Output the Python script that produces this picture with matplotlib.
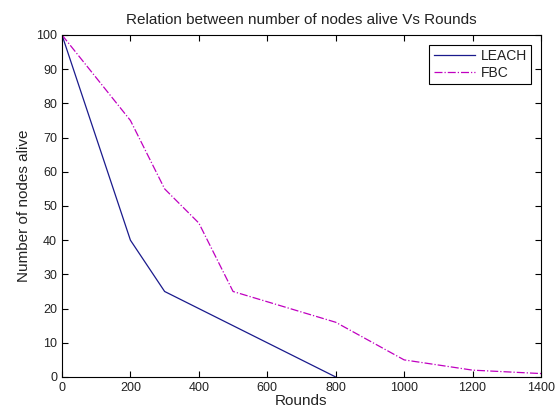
import matplotlib.pyplot as plt

plt.rcParams['font.family'] = ['Liberation Sans', 'DejaVu Sans']

# data
rounds_leach = [0, 200, 300, 800]
alive_leach = [100, 40, 25, 0]

rounds_fbc = [0, 200, 300, 400, 500, 600, 800, 1000, 1200, 1400]
alive_fbc = [100, 75, 55, 45, 25, 22, 16, 5, 2, 1]

fig = plt.figure(figsize=(5.56, 4.15), dpi=100)
ax = fig.add_axes([0.1115, 0.0916, 0.8615, 0.8241])

ax.plot(rounds_leach, alive_leach, color='#1a1a8c', linewidth=0.9, linestyle='-', label='LEACH')
ax.plot(rounds_fbc, alive_fbc, color='#c000c0', linewidth=0.9, linestyle='-.', label='FBC')

ax.set_xlim(0, 1400)
ax.set_ylim(0, 100)
ax.set_xticks(range(0, 1401, 200))
ax.set_yticks(range(0, 101, 10))
ax.tick_params(direction='in', top=True, right=True, labelsize=9, length=4,
               labelcolor='#222222')

ax.set_xlabel('Rounds', fontsize=11, labelpad=0, color='#222222')
ax.set_ylabel('Number of nodes alive', fontsize=11, labelpad=4, color='#222222')
ax.set_title('Relation between number of nodes alive Vs Rounds', fontsize=11, pad=8,
             color='#222222')

leg = ax.legend(loc='upper right', fontsize=10, fancybox=False, framealpha=1,
                edgecolor='black', handlelength=3.0, borderaxespad=0.7,
                borderpad=0.3, labelspacing=0.2, handletextpad=0.4)
leg.get_frame().set_linewidth(0.8)
for t in leg.get_texts():
    t.set_color('#222222')

plt.savefig('out.png', dpi=100)
